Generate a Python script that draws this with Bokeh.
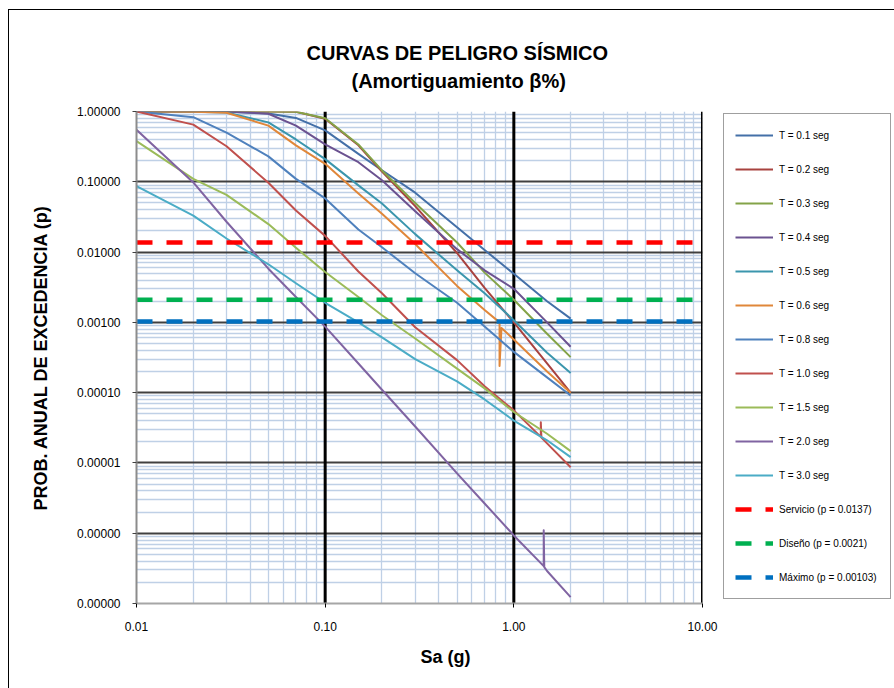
from bokeh.plotting import figure
from bokeh.models import (Range1d, FixedTicker, CustomJSTickFormatter, Legend,
                          LegendItem, Title, Span)
from bokeh.embed import file_html
from bokeh.resources import INLINE

# ---------------- data ----------------
SA = [0.01, 0.02, 0.03, 0.05, 0.07, 0.1, 0.15, 0.2, 0.3, 0.5, 0.7, 1.0, 1.5, 2.0]

P_T01 = [1.0, 1.0, 0.995, 0.94, 0.81, 0.54, 0.25, 0.146, 0.07, 0.0225, 0.0107, 0.0049, 0.002, 0.00113]
P_T02 = [1.0, 1.0, 1.0, 1.0, 0.99, 0.79, 0.33, 0.14, 0.045, 0.0097, 0.0031, 0.001, 0.00026, 0.0001]
P_T03 = [1.0, 1.0, 1.0, 1.0, 0.99, 0.8, 0.34, 0.145, 0.05, 0.0137, 0.0051, 0.0021, 0.00069, 0.00032]
P_T04 = [1.0, 1.0, 1.0, 0.93, 0.63, 0.34, 0.19, 0.105, 0.038, 0.011, 0.0055, 0.003, 0.001, 0.00045]
P_T05 = [1.0, 0.995, 0.97, 0.7, 0.4, 0.21, 0.089, 0.049, 0.018, 0.0055, 0.0026, 0.00107, 0.00037, 0.00019]
P_T06 = [1.0, 0.995, 0.96, 0.63, 0.33, 0.18, 0.068, 0.035, 0.013, 0.0033, 0.0015, 0.00057, 0.0002, 0.0001]
P_T08 = [1.0, 0.83, 0.5, 0.23, 0.11, 0.058, 0.021, 0.0117, 0.005, 0.0019, 0.00087, 0.00038, 0.000165, 0.000091]
P_T10 = [1.0, 0.65, 0.32, 0.097, 0.039, 0.017, 0.0053, 0.0026, 0.00085, 0.00029, 0.000123, 0.000056, 0.000019, 0.0000087]
P_T15 = [0.38, 0.11, 0.065, 0.025, 0.0115, 0.0052, 0.0023, 0.00126, 0.00059, 0.00022, 0.000115, 0.000053, 0.000026, 0.0000147]
P_T20 = [0.55, 0.098, 0.027, 0.0058, 0.0023, 0.00087, 0.00026, 0.00011, 0.000033, 0.0000071, 0.00000265, 0.00000093, 0.00000029, 0.000000123]
P_T30 = [0.087, 0.033, 0.0156, 0.0067, 0.0036, 0.0019, 0.001, 0.00061, 0.0003, 0.000145, 0.00008, 0.00004, 0.000021, 0.0000121]

# irregular extra points present in the source data (spikes)
EXTRA_SA_T06 = [0.84, 0.84, 0.86]
EXTRA_P_T06 = [0.001, 0.00024, 0.00083]
EXTRA_SA_T10 = [1.39, 1.39, 1.40]
EXTRA_P_T10 = [0.0000235, 0.000038, 0.000023]
EXTRA_SA_T20 = [1.44, 1.44, 1.45]
EXTRA_P_T20 = [0.00000034, 0.0000011, 0.00000033]

SERIES_NAMES = ["T = 0.1 seg", "T = 0.2 seg", "T = 0.3 seg", "T = 0.4 seg",
                "T = 0.5 seg", "T = 0.6 seg", "T = 0.8 seg", "T = 1.0 seg",
                "T = 1.5 seg", "T = 2.0 seg", "T = 3.0 seg"]
SERIES_P = [P_T01, P_T02, P_T03, P_T04, P_T05, P_T06, P_T08, P_T10, P_T15, P_T20, P_T30]
SERIES_EXTRA = {5: (EXTRA_SA_T06, EXTRA_P_T06),
                7: (EXTRA_SA_T10, EXTRA_P_T10),
                9: (EXTRA_SA_T20, EXTRA_P_T20)}

LEVEL_NAMES = ["Servicio (p = 0.0137)", "Diseño (p = 0.0021)", "Máximo (p = 0.00103)"]
LEVEL_P = [0.0137, 0.0021, 0.00103]

X_TICKS = [0.01, 0.1, 1.0, 10.0]
X_LABELS = ["0.01", "0.10", "1.00", "10.00"]
Y_TICKS = [1e-7, 1e-6, 1e-5, 1e-4, 1e-3, 1e-2, 1e-1, 1.0]
Y_LABELS = ["0.00000", "0.00000", "0.00001", "0.00010", "0.00100", "0.01000", "0.10000", "1.00000"]

TITLE_1 = "CURVAS DE PELIGRO SÍSMICO"
TITLE_2 = "(Amortiguamiento β%)"
X_TITLE = "Sa (g)"
Y_TITLE = "PROB. ANUAL DE EXCEDENCIA (p)"

# ---------------- styles ----------------
SERIES_COLORS = ["#4470A8", "#A8423F", "#84A348", "#6B5290", "#3B96AD", "#E0873A",
                 "#4F81BD", "#C0504D", "#9BBB59", "#8064A2", "#4BACC6"]
LEVEL_COLORS = ["#FF0000", "#00B050", "#0070C0"]
FONT = "Liberation Sans"

p = figure(frame_width=566, frame_height=492, x_axis_type="log", y_axis_type="log",
           x_range=Range1d(X_TICKS[0], X_TICKS[-1]), y_range=Range1d(Y_TICKS[0], Y_TICKS[-1]),
           output_backend="svg", toolbar_location=None,
           min_border_left=127, min_border_right=191, min_border_top=101, min_border_bottom=85)
p.styles = {"margin-left": "8px", "margin-top": "9px",
            "border-left": "1px solid #000000", "border-top": "1px solid #000000"}
p.outline_line_color = None
p.background_fill_color = "white"
p.border_fill_color = "white"

decades_x = [-2, -1, 0]
decades_y = [-7, -6, -5, -4, -3, -2, -1]
x_minor = [m * 10.0 ** e for e in decades_x for m in range(2, 10)]
y_minor = [m * 10.0 ** e for e in decades_y for m in range(2, 10)]
p.xgrid.ticker = FixedTicker(ticks=[], minor_ticks=x_minor)
p.ygrid.ticker = FixedTicker(ticks=Y_TICKS[1:], minor_ticks=y_minor)
p.xgrid.grid_line_color = None
p.ygrid.grid_line_color = "#404040"
p.ygrid.grid_line_width = 1.8
for g in (p.xgrid, p.ygrid):
    g.minor_grid_line_color = "#BFD0E6"
    g.minor_grid_line_width = 1.3
for xv in X_TICKS[1:]:
    p.add_layout(Span(location=xv, dimension="height", line_color="#000000",
                      line_width=3, level="underlay"))

fmt_code = """
let best = 0, bd = Infinity;
for (let i = 0; i < tvals.length; i++) {
  const d = Math.abs(Math.log10(tvals[i]) - Math.log10(tick));
  if (d < bd) { bd = d; best = i; }
}
return tlabels[best];
"""
p.xaxis.ticker = FixedTicker(ticks=X_TICKS, minor_ticks=[])
p.yaxis.ticker = FixedTicker(ticks=Y_TICKS, minor_ticks=[])
p.xaxis.formatter = CustomJSTickFormatter(args=dict(tvals=X_TICKS, tlabels=X_LABELS), code=fmt_code)
p.yaxis.formatter = CustomJSTickFormatter(args=dict(tvals=Y_TICKS, tlabels=Y_LABELS), code=fmt_code)

for ax in (p.xaxis, p.yaxis):
    ax.major_tick_in = 0
    ax.major_tick_out = 4
    ax.minor_tick_in = 0
    ax.minor_tick_out = 0
    ax.major_label_text_font = FONT
    ax.major_label_text_font_size = "12px"
    ax.major_label_text_color = "#000000"
    ax.axis_line_width = 2
p.xaxis.axis_line_color = "#A6A6A6"
p.yaxis.axis_line_color = "#8C8C8C"
p.xaxis.major_tick_line_color = "#000000"
p.yaxis.major_tick_line_color = "#404040"
p.xaxis.major_label_standoff = 14
p.yaxis.major_label_standoff = 12

p.yaxis.axis_label = Y_TITLE
p.yaxis.axis_label_text_font = FONT
p.yaxis.axis_label_text_font_style = "bold"
p.yaxis.axis_label_text_font_size = "18px"
p.yaxis.axis_label_text_color = "#000000"
p.yaxis.axis_label_standoff = 23

# titles: first in list sits nearest the plot frame
p.add_layout(Title(text=TITLE_2, align="left", offset=215, standoff=36, vertical_align="top",
                   text_font=FONT, text_font_size="20px", text_font_style="bold",
                   text_color="#000000"), "above")
p.add_layout(Title(text=TITLE_1, align="left", offset=170, standoff=-24, vertical_align="bottom",
                   text_font=FONT, text_font_size="20px", text_font_style="bold",
                   text_color="#000000"), "above")
p.add_layout(Title(text=X_TITLE, align="left", offset=284, standoff=26, vertical_align="top",
                   text_font=FONT, text_font_size="18px", text_font_style="bold",
                   text_color="#000000"), "below")

# curves
items = []
for i, (name, pv) in enumerate(zip(SERIES_NAMES, SERIES_P)):
    pts = list(zip(SA, pv))
    if i in SERIES_EXTRA:
        ex_sa, ex_p = SERIES_EXTRA[i]
        pts += list(zip(ex_sa, ex_p))
        pts.sort(key=lambda t: t[0])
    xs = [a for a, _ in pts]
    ys = [b for _, b in pts]
    r = p.line(xs, ys, line_color=SERIES_COLORS[i], line_width=2, line_join="round")
    items.append(LegendItem(label=name, renderers=[r]))

for name, lv, col in zip(LEVEL_NAMES, LEVEL_P, LEVEL_COLORS):
    r = p.line([X_TICKS[0], X_TICKS[-1]], [lv, lv], line_color=col, line_width=4.5,
               line_dash="16 14")
    items.append(LegendItem(label=name, renderers=[r]))

legend = Legend(items=items, location=(21, 4), margin=0,
                label_text_font=FONT, label_text_font_size="10px", label_text_color="#000000",
                glyph_width=38, glyph_height=20, label_height=20, label_width=100,
                spacing=14, padding=11, label_standoff=6,
                border_line_color="#404040", border_line_width=1.5,
                background_fill_color="white", background_fill_alpha=1.0)
p.add_layout(legend, "right")

open("out.html", "w").write(file_html(p, INLINE))
